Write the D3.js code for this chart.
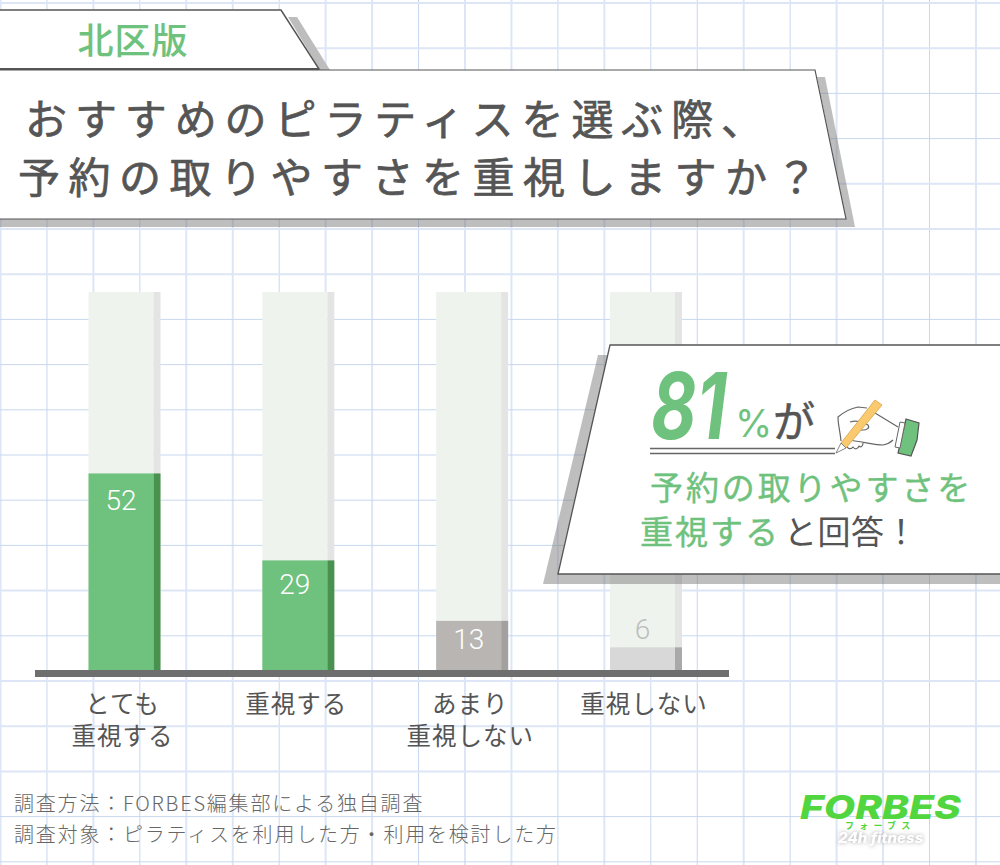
<!DOCTYPE html>
<html lang="ja"><head><meta charset="utf-8">
<script src="https://cdn.jsdelivr.net/npm/d3@7"></script>
<style>html,body{margin:0;padding:0;background:#fff;overflow:hidden}svg{display:block}
text{font-family:"Noto Sans CJK JP","Noto Sans",sans-serif}</style></head>
<body><svg id="c" width="1000" height="865"></svg>
<script>
const categories = [["とても","重視する"],["重視する"],["あまり","重視しない"],["重視しない"]];
const values = [52,29,13,6];
const titleLines = ["おすすめのピラティスを選ぶ際、","予約の取りやすさを重視しますか？"];
const tagLabel = "北区版";
const footnotes = ["調査方法：FORBES編集部による独自調査","調査対象：ピラティスを利用した方・利用を検討した方"];

const svg = d3.select("#c");
const W=1000,H=865, DARK="#555", GREEN="#6fc27d";
const poly=(pts,fill,stroke,sw)=>svg.append("path").attr("d",d3.line()(pts)+"Z").attr("fill",fill).attr("stroke",stroke||"none").attr("stroke-width",sw||0);

// graph paper
const wideV=new Set([0,2,4,5,7,8,10,11,13,16,18,19,21]), wideH=new Set([0,1,4,5,6,13,15,16,17]);
d3.range(0,22).forEach(i=>{const x=i*46.45+0.5, w=wideV.has(i);
  svg.append("line").attr("x1",x).attr("x2",x).attr("y1",0).attr("y2",H)
   .attr("stroke",w?"#dde6f6":"#c8d7ef").attr("stroke-width",w?2:1);});
d3.range(0,20).forEach(i=>{const y=i*45.2+3, w=wideH.has(i);
  svg.append("line").attr("y1",y).attr("y2",y).attr("x1",0).attr("x2",W)
   .attr("stroke",w?"#dde6f6":"#c8d7ef").attr("stroke-width",w?2:1);});

// scales
const y=d3.scaleLinear().domain([0,100]).range([670,292]);
const x=d3.scalePoint().domain(d3.range(values.length)).range([88.5,610]);
const faceW=65, sideW=7;
const fill=[GREEN,GREEN,"#b9b5b3","#d8d8d8"], side=["#48914f","#48914f","#a3a1a0","#a9a9a9"];
const labelDy=[37,34,28,-8];

const bars=svg.append("g");
values.forEach((v,i)=>{
  const left=x(i);
  bars.append("rect").attr("x",left).attr("y",y(100)).attr("width",faceW).attr("height",y(0)-y(100)).attr("fill","#eff3ee");
  bars.append("rect").attr("x",left+faceW).attr("y",y(100)).attr("width",sideW).attr("height",y(0)-y(100)).attr("fill","#e4e4e4");
  bars.append("rect").attr("x",left).attr("y",y(v)).attr("width",faceW).attr("height",y(0)-y(v)).attr("fill",fill[i]);
  bars.append("rect").attr("x",left+faceW).attr("y",y(v)).attr("width",sideW).attr("height",y(0)-y(v)).attr("fill",side[i]);
  bars.append("text").attr("x",left+faceW/2).attr("y",y(v)+labelDy[i])
    .attr("text-anchor","middle").attr("fill",labelDy[i]>0?"#fff":"#bdbdbd")
    .style("font-family","Roboto").style("font-size","28px").style("font-weight",300).text(v);
  categories[i].forEach((t,k)=>svg.append("text").attr("x",left+faceW/2+1.5).attr("y",713+k*32)
    .attr("text-anchor","middle").attr("fill",DARK).style("font-size","24.5px").style("letter-spacing","1px").text(t));
});
svg.append("rect").attr("x",35).attr("y",670).attr("width",694).attr("height",7).attr("fill","#6e6e6e");

// title panels
poly([[288,17],[297,17],[330,70],[320,70]],"#bdbdbd");
poly([[817,77],[825,77],[855,227],[0,227],[0,219],[846,219]],"rgba(120,120,120,.48)");
poly([[-3,10],[281,10],[319,69],[-3,69]],"#fff",DARK,1.5);
svg.append("rect").attr("x",0).attr("y",68).attr("width",319).attr("height",3).attr("fill",DARK);
poly([[-3,70],[815,70],[846,219],[-3,219]],"#fff",DARK,1.2);
svg.append("text").attr("x",133).attr("y",54).attr("text-anchor","middle").attr("fill",GREEN)
  .style("font-size","36px").style("font-weight",500).style("letter-spacing","1px").text(tagLabel);
titleLines.forEach((t,i)=>{
  svg.append("text").attr("x",i?18:25).attr("y",i?193:135).attr("fill",DARK).attr("stroke",DARK)
    .attr("stroke-width",.7).attr("stroke-linejoin","round")
    .style("font-size","42px").style("letter-spacing",i?"8.5px":"7.9px").text(t);
});

// callout
poly([[598,355],[620,355],[600,574],[1000,574],[1000,584],[543,584]],"rgba(120,120,120,.48)");
poly([[610,345],[1003,345],[1003,574],[558,574]],"#fff",DARK,1.3);
svg.append("text").attr("transform","translate(651,439) scale(.76,1)").attr("fill",GREEN).style("font-family","Inter")
  .style("font-size","92px").style("font-weight",700).style("font-style","italic").text("81");
svg.append("text").attr("x",735).attr("y",437).attr("fill",GREEN).style("font-family","Inter")
  .style("font-size","38px").style("font-weight",400).text("%");
svg.append("text").attr("x",773).attr("y",437).attr("fill",DARK).attr("stroke",DARK).attr("stroke-width",.5).style("font-size","42px").text("が");
svg.append("path").attr("d","M650,448.5H835M650,453.5H835").attr("stroke","#666").attr("stroke-width",1.3).attr("fill","none");
svg.append("text").attr("x",650).attr("y",500).attr("fill",GREEN).attr("stroke",GREEN).attr("stroke-width",.4)
  .style("font-size","33px").style("letter-spacing","2.9px").text("予約の取りやすさを");
const l2=svg.append("text").attr("x",640).attr("y",544).style("font-size","33px").style("letter-spacing","2px");
l2.append("tspan").attr("fill",GREEN).attr("stroke",GREEN).attr("stroke-width",.4).text("重視する");
l2.append("tspan").attr("fill",DARK).attr("dx",4).style("letter-spacing","0.5px").text("と回答！");

// hand and pen
const hand=svg.append("g").attr("fill","none").attr("stroke","#666").attr("stroke-width",1.2).attr("stroke-linejoin","round");
hand.append("path").attr("d","M841,441C840,430 838,425 838,417C845,411 853,408 858,407L867,408M875,413L898,427");
hand.append("path").attr("d","M847,440C860,441 875,445 883,445C888,444 891,442 893,440M846,443C846,449 851,450 853,447C855,450 858,449 859,446C861,448 863,446 863,443M850,422C856,420 864,422 868,425C870,428 867,430 863,430C858,430 853,432 851,434");
poly([[906,419],[919,423],[917,440],[911,456],[898,453]],GREEN,"#555",1.2);
poly([[900,422],[905,423],[900,448],[895,447]],"#fff","#666",1);
poly([[875,400],[882,405],[846,448],[841,443]],"#fcca6e","#d9a850",.9);
poly([[841,443],[846,448],[836,453]],"#fff","#666",.8);

// footer
footnotes.forEach((t,i)=>svg.append("text").attr("x",14).attr("y",811+i*30.5).attr("fill","#666")
  .style("font-size","20px").style("font-weight",300).style("letter-spacing","1.8px").text(t));

// logo
const logo=svg.append("g");
logo.append("text").attr("transform","translate(800,819) scale(1.23,1)").attr("fill","#52d63f")
  .style("font-family","Inter").style("font-size","33px").style("font-weight",800).style("font-style","italic").text("FORBES");
logo.append("text").attr("x",845).attr("y",829).attr("fill","#52d63f")
  .style("font-size","9px").style("font-weight",700).style("letter-spacing","5.2px").text("フォーブス");
logo.append("text").attr("transform","translate(838,843) scale(1.08,1)").attr("fill","#fff")
  .style("filter","drop-shadow(0 0 2px #aaa)")
  .style("font-family","Inter").style("font-size","14px").style("font-weight",800).style("font-style","italic").text("24h fitness");
</script></body></html>
